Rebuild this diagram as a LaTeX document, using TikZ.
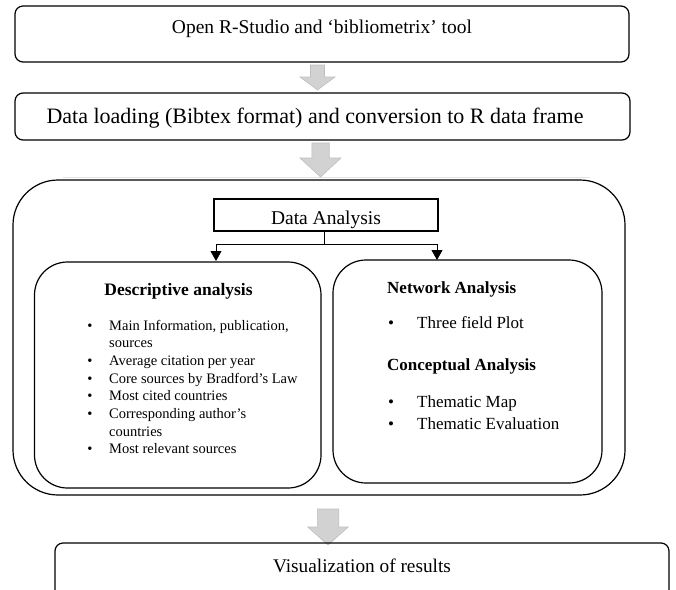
\documentclass[tikz,border=0pt]{standalone}
\usepackage{fontspec}
\setmainfont{Liberation Serif}
\usetikzlibrary{arrows.meta}
\begin{document}
\begin{tikzpicture}[x=1pt,y=-1pt,
  frame/.style={draw, line width=1.2pt, inner sep=0pt, outer sep=0pt},
  stepbox/.style={frame, rounded corners=8pt},
  panel/.style={frame, rounded corners=33pt},
  txt/.style={inner sep=0pt, anchor=base},
  txtl/.style={inner sep=0pt, anchor=base west},
  big/.style={font=\fontsize{19.5}{23}\selectfont},
  mid/.style={font=\fontsize{17}{20}\selectfont},
  midb/.style={font=\fontsize{17.5}{20}\selectfont\bfseries},
  small/.style={font=\fontsize{14.5}{17}\selectfont},
  blockarrow/.style={fill=gray!35, draw=gray!50, line width=0.6pt},
  tip/.style={-{Triangle[length=10pt,width=11pt]}, line width=0.8pt},
  pics/downarrow/.style n args={4}{code={
    \draw[blockarrow] (-#1,0) -- (#1,0) -- (#1,#3) -- (#2,#3) -- (0,#4)
      -- (-#2,#3) -- (-#1,#3) -- cycle;}}
]
\useasboundingbox (0,0) rectangle (676,589);
\clip (0,0) rectangle (676,589);

% main steps
\node[stepbox, minimum width=614pt, minimum height=56pt] (open) at (322,34) {};
\node[txt, big] (opentext) at (322,33.3) {Open R-Studio and ‘bibliometrix’ tool};

\node[stepbox, minimum width=615pt, minimum height=47pt] (load) at (322.5,116.5) {};
\node[txt, font=\fontsize{22}{26}\selectfont] (loadtext) at (315,123) {Data loading (Bibtex format) and conversion to R data frame};

% thin rule under the second arrow
\draw[gray!22, line width=0.8pt] (62.6,177) -- (590,177);

% block arrows between the steps
\pic at (317.5,65) {downarrow={7}{17.5}{12}{25}};
\pic at (320.5,143) {downarrow={8.7}{20.5}{15}{34}};
\pic at (328,509) {downarrow={10.7}{20.3}{18}{36}};

% analysis container
\node[frame, rounded corners=45pt, minimum width=612pt, minimum height=315pt] (analysis) at (319,337.5) {};
\node[frame, minimum width=224pt, minimum height=32pt] (da) at (326,215) {};
\node[txt, big] (datext) at (326,224) {Data Analysis};

\node[panel, minimum width=286.5pt, minimum height=226pt] (desc) at (177.75,375) {};
\node[panel, minimum width=269pt, minimum height=223pt] (net) at (467.5,371.5) {};

% split connector
\coordinate (split) at (324,244);
\coordinate (ltip) at (216,261);
\coordinate (rtip) at (437,260);
\draw[line width=0.8pt] (da.south -| split) -- (split);
\draw[tip] (split) -| (ltip);
\draw[tip] (split) -| (rtip);

% descriptive analysis
\node[txt, midb] (desctitle) at (178.5,295) {Descriptive analysis};
\foreach \y/\t/\b [count=\i] in {
  330/{Main Information, publication,}/1,
  347.7/{sources}/0,
  365.4/{Average citation per year}/1,
  383.1/{Core sources by Bradford’s Law}/1,
  400.8/{Most cited countries}/1,
  418.5/{Corresponding author’s}/1,
  436.2/{countries}/0,
  453.9/{Most relevant sources}/1}{
  \node[txtl, small] (dline\i) at (109,\y) {\t};
  \ifnum\b=1 \node[txt, small] (dbullet\i) at (90,\y) {\textbullet}; \fi
}

% network and conceptual analysis
\node[txtl, font=\fontsize{17}{20}\selectfont\bfseries] (nettitle) at (387,293) {Network Analysis};
\node[txt, mid] (nb1) at (391,328) {\textbullet};
\node[txtl, mid] (nl1) at (417,328) {Three field Plot};
\node[txtl, font=\fontsize{17}{20}\selectfont\bfseries] (contitle) at (387,370) {Conceptual Analysis};
\node[txt, mid] (cb1) at (391,407) {\textbullet};
\node[txtl, mid] (cl1) at (417,407) {Thematic Map};
\node[txt, mid] (cb2) at (391,429) {\textbullet};
\node[txtl, mid] (cl2) at (417,429) {Thematic Evaluation};

% final step
\node[stepbox, minimum width=614pt, minimum height=60pt] (vis) at (362,573) {};
\node[txt, font=\fontsize{19.3}{23}\selectfont] (vistext) at (362,572) {Visualization of results};
\end{tikzpicture}
\end{document}
